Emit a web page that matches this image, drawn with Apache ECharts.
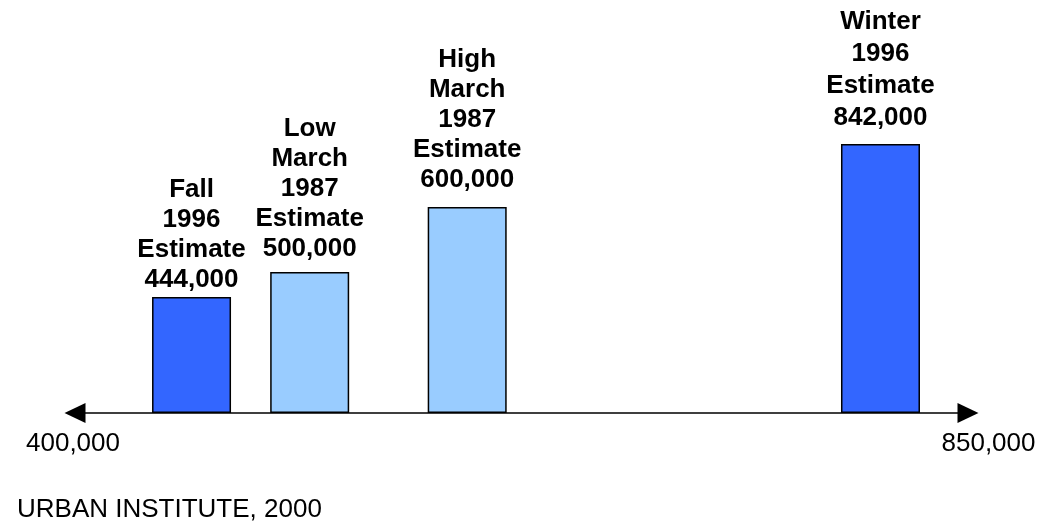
<!DOCTYPE html>
<html>
<head>
<meta charset="utf-8">
<script src="https://cdn.jsdelivr.net/npm/echarts@6/dist/echarts.min.js"></script>
<style>
  html, body { margin: 0; padding: 0; background: #fff; }
  #chart { width: 1053px; height: 523px; }
</style>
</head>
<body>
<div id="chart"></div>
<script>
// estimate names and the numbers printed above each bar
var estimateNames = ['Fall 1996 Estimate', 'Low March 1987 Estimate', 'High March 1987 Estimate', 'Winter 1996 Estimate'];
var estimateValues = [444000, 500000, 600000, 842000];
// where each bar sits on the 400,000 - 850,000 line (as drawn in the picture)
var barPositions = [459600, 519000, 598200, 806000];
// bar heights as drawn (relative units, not to scale with the estimates)
var barHeights = [116, 141, 206, 269];
// axis end labels
var axisTicks = [400000, 850000];

// gap between each label and its bar, px
var labelGaps = [2, 8, 12, 10];

var myChart = echarts.init(document.getElementById('chart'));

function fmt(v) {
	return v.toString().replace(/\B(?=(\d{3})+(?!\d))/g, ',');
}

var seriesData = [];
for (var i = 0; i < estimateNames.length; i++) {
	seriesData.push({
		name: estimateNames[i],
		value: [barPositions[i], barHeights[i]],
		estimate: estimateValues[i],
		label: { distance: labelGaps[i], lineHeight: i === 3 ? 32 : 30 }
	});
}

var option = {
	animation: false,
	backgroundColor: '#fff',
	textStyle: { fontFamily: 'Liberation Sans, Arial, sans-serif' },
	grid: { left: 73, right: 85, top: 113, bottom: 110, containLabel: false },
	xAxis: {
		type: 'value',
		min: axisTicks[0],
		max: axisTicks[1],
		splitLine: { show: false },
		axisTick: { show: false },
		axisLine: {
			show: true,
			onZero: false,
			symbol: ['triangle', 'triangle'],
			symbolSize: [20, 21],
			symbolOffset: [2, 0],
			lineStyle: { color: '#000', width: 1.5 }
		},
		axisLabel: {
			customValues: axisTicks,
			margin: 18,
			fontSize: 26,
			color: '#000',
			fontFamily: 'Liberation Sans, Arial, sans-serif',
			formatter: function (v) {
				return v === axisTicks[1] ? '{r|' + fmt(v) + '}' : fmt(v);
			},
			rich: {
				r: { fontSize: 26, color: '#000', padding: [0, 0, 0, 41], fontFamily: 'Liberation Sans, Arial, sans-serif' }
			}
		}
	},
	yAxis: {
		type: 'value',
		min: 0,
		max: 300,
		show: false
	},
	graphic: [{
		type: 'text',
		left: 17,
		top: 497,
		style: {
			text: 'URBAN INSTITUTE, 2000',
			fontSize: 26,
			fill: '#000',
			fontFamily: 'Liberation Sans, Arial, sans-serif'
		}
	}],
	series: [{
		type: 'bar',
		barWidth: 79,
		data: seriesData,
		itemStyle: {
			borderColor: '#000',
			borderWidth: 1.5,
			color: function (p) {
				return p.name.indexOf('1996') >= 0 ? '#3366FF' : '#99CCFF';
			}
		},
		label: {
			show: true,
			position: 'top',
			distance: 2,
			fontSize: 26,
			fontWeight: 'bold',
			lineHeight: 30,
			color: '#000',
			fontFamily: 'Liberation Sans, Arial, sans-serif',
			formatter: function (p) {
				return p.name.split(' ').join('\n') + '\n' + fmt(p.data.estimate);
			}
		}
	}]
};

myChart.clear();
myChart.setOption(option);
</script>
</body>
</html>
